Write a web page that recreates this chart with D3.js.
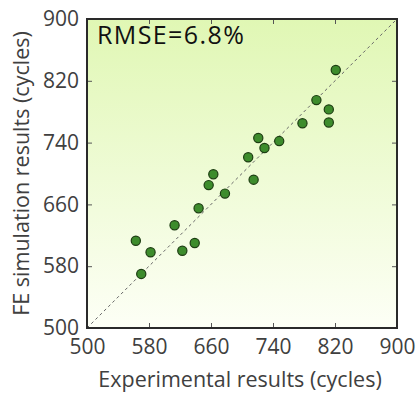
<!DOCTYPE html>
<html>
<head>
<meta charset="utf-8">
<script src="https://cdn.jsdelivr.net/npm/d3@7"></script>
<style>
  body { margin: 0; background: #fff; }
  text { font-family: "Open Sans", sans-serif; fill: #404040; }
</style>
</head>
<body>
<svg id="chart" width="418" height="398"></svg>
<script>
// data
var experimental = [570, 563, 582, 623, 639, 613, 644, 657, 678, 663, 715, 708, 729, 721, 748, 778, 812, 812, 796, 821];
var simulated    = [570, 613, 598, 600, 610, 633, 655, 685, 674, 699, 692, 721, 733, 746, 742, 765, 766, 783, 795, 834];
var tickValues = [500, 580, 660, 740, 820, 900];
var rmseLabel = 'RMSE=6.8%';

var svg = d3.select('#chart');
var plotLeft = 87, plotRight = 397, plotTop = 19, plotBottom = 328;

var xScale = d3.scaleLinear().domain([500, 900]).range([plotLeft, plotRight]);
var yScale = d3.scaleLinear().domain([500, 900]).range([plotBottom, plotTop]);

// background gradient
var defs = svg.append('defs');
var grad = defs.append('linearGradient')
    .attr('id', 'bg')
    .attr('x1', 0).attr('y1', 0).attr('x2', 0).attr('y2', 1);
grad.append('stop').attr('offset', '0%').attr('stop-color', '#e0f7b4');
grad.append('stop').attr('offset', '100%').attr('stop-color', '#fdfff6');

svg.append('rect')
    .attr('x', plotLeft).attr('y', plotTop)
    .attr('width', plotRight - plotLeft).attr('height', plotBottom - plotTop)
    .style('fill', 'url(#bg)');

// axes, ticks pointing inward
var xAxis = d3.axisBottom(xScale).tickValues(tickValues).tickSize(-5).tickPadding(11);
var yAxis = d3.axisLeft(yScale).tickValues(tickValues).tickSize(-5).tickPadding(8);

var gX = svg.append('g').attr('transform', 'translate(0,' + plotBottom + ')').call(xAxis);
var gY = svg.append('g').attr('transform', 'translate(' + plotLeft + ',0)').call(yAxis);
svg.append('g').attr('transform', 'translate(0,' + plotTop + ')')
    .call(d3.axisTop(xScale).tickValues(tickValues).tickSize(-5).tickFormat(''));
svg.append('g').attr('transform', 'translate(' + plotRight + ',0)')
    .call(d3.axisRight(yScale).tickValues(tickValues).tickSize(-5).tickFormat(''));

svg.selectAll('.domain').remove();
svg.selectAll('.tick line').style('stroke', '#555').style('stroke-width', 1);
svg.selectAll('.tick text').attr('font-family', null).attr('font-size', null)
    .style('font-size', '21px').style('fill', '#404040');

// 1:1 line
svg.append('line')
    .attr('x1', xScale(500)).attr('y1', yScale(500))
    .attr('x2', xScale(900)).attr('y2', yScale(900))
    .style('stroke', '#666')
    .style('stroke-width', 1)
    .style('stroke-dasharray', '3,3');

// points
var pts = experimental.map(function(d, i) { return { x: d, y: simulated[i] }; });
svg.append('g').selectAll('circle')
    .data(pts)
    .enter()
    .append('circle')
    .attr('cx', function(d) { return xScale(d.x); })
    .attr('cy', function(d) { return yScale(d.y); })
    .attr('r', 4.6)
    .style('fill', '#3d8c2c')
    .style('stroke', '#1d3d12')
    .style('stroke-width', 1.2);

// frame
svg.append('rect')
    .attr('x', plotLeft).attr('y', plotTop)
    .attr('width', plotRight - plotLeft).attr('height', plotBottom - plotTop)
    .style('fill', 'none')
    .style('stroke', '#2a2a2a')
    .style('stroke-width', 2);

svg.append('text')
    .attr('x', plotLeft + 10)
    .attr('y', 44)
    .style('font-size', '25px')
    .style('letter-spacing', '1.4px')
    .style('fill', '#111')
    .text(rmseLabel);

svg.append('text')
    .attr('x', (plotLeft + plotRight) / 2 - 2)
    .attr('y', 387)
    .attr('text-anchor', 'middle')
    .style('font-size', '21.5px')
    .text('Experimental results (cycles)');

svg.append('text')
    .attr('transform', 'translate(29,' + ((plotTop + plotBottom) / 2) + ') rotate(-90)')
    .attr('text-anchor', 'middle')
    .style('font-size', '21.5px')
    .text('FE simulation results (cycles)');
</script>
</body>
</html>
